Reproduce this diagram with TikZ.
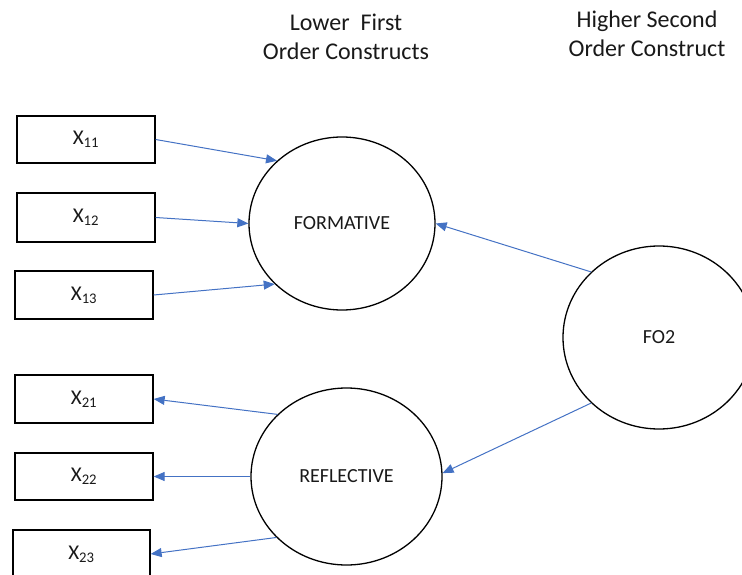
\documentclass[tikz,border=0pt]{standalone}
\usepackage{fontspec}
\setmainfont{Carlito}
\usetikzlibrary{shapes.geometric,arrows.meta}
\definecolor{linkblue}{RGB}{68,114,196}
\definecolor{inkgray}{RGB}{25,25,25}
\tikzset{
  indicator/.style={draw=black, line width=1.3pt, rectangle, minimum width=138pt,
    minimum height=47pt, inner sep=0pt, font=\fontsize{21}{24}\selectfont, text=inkgray},
  construct/.style={draw=black, line width=1.3pt, ellipse, inner sep=0pt,
    font=\fontsize{20}{23}\selectfont, text=inkgray},
  heading/.style={align=center, font=\fontsize{24}{29}\selectfont, text=inkgray},
  link/.style={draw=linkblue, line width=1pt, -{Triangle[length=11pt,width=9pt]}},
}
\begin{document}
\begin{tikzpicture}[x=1pt,y=-1pt]
\useasboundingbox (0,0) rectangle (742,575);
\clip (0,0) rectangle (742,575);

% column headings
\node[heading] (hlow) at (346,37) {Lower\ \ First\\Order Constructs};
\node[heading] (hhigh) at (647,34) {Higher Second\\Order Construct};

% first-order constructs and the second-order construct
\node[construct, minimum width=186pt, minimum height=173pt] (form) at (342,223.5) {FORMATIVE};
\node[construct, minimum width=191pt, minimum height=177pt] (refl) at (346.5,476.5) {REFLECTIVE};
\node[construct, minimum width=192pt, minimum height=183pt] (fo) at (659,337.5) {FO2};

% indicators
\node[indicator] (x11) at (86,139.5) {X\textsubscript{11}};
\node[indicator, minimum height=49pt] (x12) at (86,217.5) {X\textsubscript{12}};
\node[indicator, minimum height=48pt] (x13) at (84,295) {X\textsubscript{13}};
\node[indicator, minimum height=48pt] (x21) at (84,399) {X\textsubscript{21}};
\node[indicator] (x22) at (84,476.5) {X\textsubscript{22}};
\node[indicator, minimum width=137pt, minimum height=48pt] (x23) at (81.5,554) {X\textsubscript{23}};

% formative indicators point into the construct
\draw[link] (x11.east) -- (form.136);
\draw[link] (x12.east) -- (form.180);
\draw[link] (x13.east) -- (form.222);

% reflective construct points out to its indicators
\draw[link] (refl.138) -- (x21.east);
\draw[link] (refl.180) -- (x22.east);
\draw[link] (refl.221) -- (x23.east);

% second-order paths
\draw[link] (fo.136) -- (form.0);
\draw[link] (fo.224) -- (refl.2);
\end{tikzpicture}
\end{document}
